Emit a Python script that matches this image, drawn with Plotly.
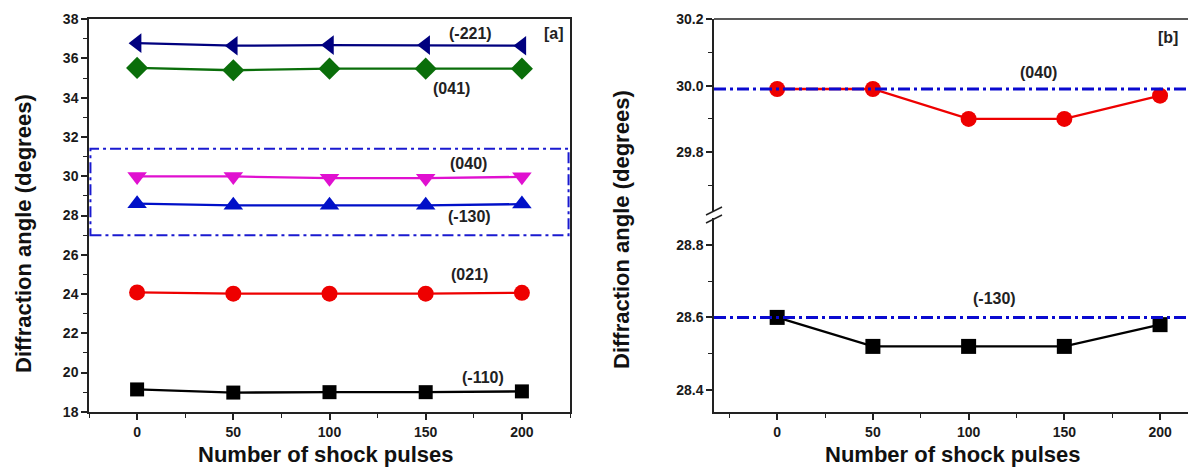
import plotly.graph_objects as go

# ---------------- data ----------------
pulses = [0, 50, 100, 150, 200]

# panel [a]
a_m221 = [36.78, 36.65, 36.68, 36.68, 36.65]
a_041 = [35.52, 35.40, 35.48, 35.48, 35.48]
a_040 = [29.99, 29.99, 29.90, 29.90, 29.97]
a_m130 = [28.60, 28.52, 28.52, 28.52, 28.58]
a_021 = [24.08, 24.02, 24.02, 24.02, 24.06]
a_m110 = [19.14, 18.98, 19.00, 19.00, 19.04]

# panel [b]
b_040 = [29.99, 29.99, 29.90, 29.90, 29.97]
b_m130 = [28.60, 28.52, 28.52, 28.52, 28.58]
b_ref_040 = 29.99
b_ref_m130 = 28.60

FONT = "Liberation Sans, Arial, sans-serif"
W, H = 1188, 470
MT, MB = 19, 58
PH = H - MT - MB


def px_x(p):
    return p / W


def px_y(p):
    return (H - MB - p) / PH


fig = go.Figure()

series_a = [
    ("(-221)", a_m221, "#00007f", "triangle-left", 17),
    ("(041)", a_041, "#0a6e0a", "diamond", 17),
    ("(040)", a_040, "#e010d0", "triangle-down", 17),
    ("(-130)", a_m130, "#0010c8", "triangle-up", 17),
    ("(021)", a_021, "#ee0000", "circle", 16),
    ("(-110)", a_m110, "#000000", "square", 14),
]
for name, ys, col, sym, sz in series_a:
    fig.add_trace(go.Scatter(
        x=pulses, y=ys, mode="lines+markers", name=name,
        line=dict(color=col, width=2.3),
        marker=dict(symbol=sym, size=sz, color=col, line=dict(width=0)),
        xaxis="x", yaxis="y", showlegend=False))

fig.add_trace(go.Scatter(
    x=pulses, y=b_040, mode="lines+markers", name="(040)",
    line=dict(color="#ee0000", width=2.3),
    marker=dict(symbol="circle", size=16, color="#ee0000"),
    xaxis="x2", yaxis="y2", showlegend=False))
fig.add_trace(go.Scatter(
    x=pulses, y=b_m130, mode="lines+markers", name="(-130)",
    line=dict(color="#000000", width=2.3),
    marker=dict(symbol="square", size=15, color="#000000"),
    xaxis="x2", yaxis="y3", showlegend=False))

axis_col = "#222222"
tickfont = dict(family=FONT, size=14, color="#1a1a1a", weight="bold")

common_x = dict(showgrid=False, zeroline=False, showline=True, linecolor=axis_col,
                linewidth=1.5, ticks="outside", ticklen=6, tickwidth=1.5,
                tickcolor=axis_col, tick0=0, dtick=50, tickfont=tickfont,
                minor=dict(dtick=25, ticks="outside", ticklen=4, tickwidth=1.2,
                           tickcolor=axis_col))
common_y = dict(showgrid=False, zeroline=False, showline=True, linecolor=axis_col,
                linewidth=1.5, ticks="outside", ticklen=6, tickwidth=1.5,
                tickcolor=axis_col, tickfont=tickfont)

fig.update_layout(
    width=W, height=H,
    margin=dict(l=0, r=0, t=MT, b=MB, pad=0),
    paper_bgcolor="white", plot_bgcolor="white",
    font=dict(family=FONT),
    xaxis=dict(**common_x, domain=[px_x(89), px_x(570)], range=[-25, 225],
               anchor="y", mirror=True),
    yaxis=dict(**common_y, domain=[0, 1], range=[17.99, 38.01], tick0=18, dtick=2,
               minor=dict(dtick=1, ticks="outside", ticklen=4, tickwidth=1.2,
                          tickcolor=axis_col),
               anchor="x", mirror=True),
    xaxis2=dict(**common_x, domain=[px_x(714), 1.0], range=[-33, 214.6], anchor="y3"),
    yaxis2=dict(**common_y, domain=[px_y(217), 1], range=[29.605, 30.2005],
                tick0=29.8, dtick=0.2, tickformat=".1f",
                minor=dict(dtick=0.1, ticks="outside", ticklen=4, tickwidth=1.2,
                           tickcolor=axis_col),
                anchor="x2"),
    yaxis3=dict(**common_y, domain=[0, px_y(217)], range=[28.339, 28.877],
                tick0=28.4, dtick=0.2, tickformat=".1f",
                minor=dict(dtick=0.1, ticks="outside", ticklen=4, tickwidth=1.2,
                           tickcolor=axis_col),
                anchor="x2"),
)

shapes = []
# dash-dot box in panel [a]
shapes.append(dict(type="rect", xref="x domain", yref="y", x0=0.003, x1=0.997,
                   y0=27.0, y1=31.4, line=dict(color="#1a1ad0", width=2,
                                               dash="11px,4px,3px,4px"),
                   fillcolor="rgba(0,0,0,0)", layer="above"))
# reference lines in panel [b]
shapes.append(dict(type="line", xref="x2 domain", yref="y2", x0=0, x1=1,
                   y0=b_ref_040, y1=b_ref_040,
                   line=dict(color="#0a0ad0", width=3, dash="12px,4px,3px,4px"),
                   layer="above"))
shapes.append(dict(type="line", xref="x2 domain", yref="y3", x0=0, x1=1,
                   y0=b_ref_m130, y1=b_ref_m130,
                   line=dict(color="#0a0ad0", width=3, dash="12px,4px,3px,4px"),
                   layer="above"))
# top border of panel [b]
shapes.append(dict(type="line", xref="paper", yref="paper", x0=px_x(714), x1=1.0,
                   y0=1, y1=1, line=dict(color=axis_col, width=1.5)))
# axis break marker
shapes.append(dict(type="rect", xref="paper", yref="paper",
                   x0=px_x(711), x1=px_x(717), y0=px_y(218), y1=px_y(212),
                   fillcolor="white", line=dict(width=0), layer="above"))
shapes.append(dict(type="line", xref="paper", yref="paper",
                   x0=px_x(706), x1=px_x(722), y0=px_y(215), y1=px_y(207),
                   line=dict(color=axis_col, width=1.5), layer="above"))
shapes.append(dict(type="line", xref="paper", yref="paper",
                   x0=px_x(706), x1=px_x(722), y0=px_y(223), y1=px_y(215),
                   line=dict(color=axis_col, width=1.5), layer="above"))
fig.update_layout(shapes=shapes)

lab_font = dict(family=FONT, size=16, color="#222222", weight="bold")
ann = []
for txt, x, y in [("(-221)", 173.5, 37.29), ("[a]", 216.6, 37.29),
                  ("(041)", 163.6, 34.49), ("(040)", 172, 30.63),
                  ("(-130)", 173, 27.93), ("(021)", 173, 24.97),
                  ("(-110)", 179.7, 19.73)]:
    ann.append(dict(text=txt, x=x, y=y, xref="x", yref="y", showarrow=False,
                    font=lab_font, xanchor="center", yanchor="middle"))
ann.append(dict(text="(040)", x=136.3, y=30.04, xref="x2", yref="y2", showarrow=False,
                font=lab_font, xanchor="center", yanchor="middle"))
ann.append(dict(text="[b]", x=204, y=30.146, xref="x2", yref="y2", showarrow=False,
                font=lab_font, xanchor="center", yanchor="middle"))
ann.append(dict(text="(-130)", x=113.6, y=28.651, xref="x2", yref="y3", showarrow=False,
                font=lab_font, xanchor="center", yanchor="middle"))

title_font = dict(family=FONT, size=22, color="#111111", weight="bold")
for x in [326, 953]:
    ann.append(dict(text="Number of shock pulses", x=px_x(x), y=px_y(469),
                    xref="paper", yref="paper", showarrow=False, font=title_font,
                    xanchor="center", yanchor="bottom"))
for x, y in [(23, 234), (621, 230)]:
    ann.append(dict(text="Diffraction angle (degrees)", x=px_x(x), y=px_y(y),
                    xref="paper", yref="paper", showarrow=False, font=title_font,
                    textangle=-90, xanchor="center", yanchor="middle"))
fig.update_layout(annotations=ann)

fig.write_html("out.html")
